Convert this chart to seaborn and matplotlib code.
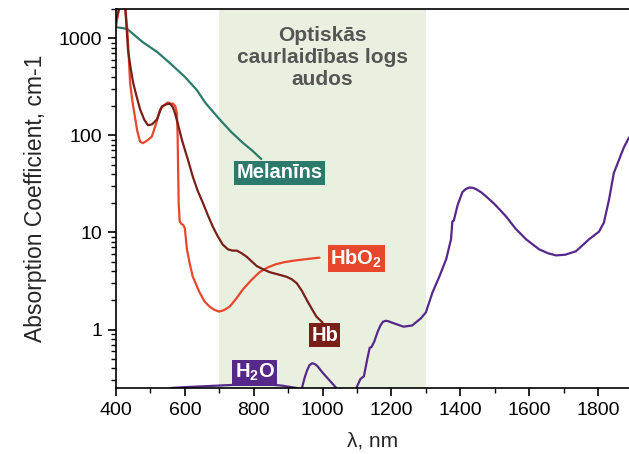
import numpy as np
import pandas as pd
import matplotlib
matplotlib.use("Agg")
import matplotlib.pyplot as plt
import matplotlib.ticker as mticker
import matplotlib.transforms as mtrans
import seaborn as sns

# ---------------- data ----------------
mel_x = [400, 432, 478, 520, 557, 600, 635, 660, 701, 735, 768, 795, 822]
mel_y = [1300, 1250, 910, 720, 553, 400, 292, 215, 146, 108, 84, 70, 57]

hbo2_x = [400, 410, 418, 425, 433, 441, 448, 455, 462, 470, 478, 490, 504, 516, 528, 540, 551,
          560, 565, 572, 577, 579, 580, 582, 585, 590, 595, 600, 606, 614, 623, 633, 643, 657,
          672, 685, 699, 713, 730, 750, 769, 792, 817, 840, 864, 890, 913, 950, 991]
hbo2_y = [1300, 2200, 2800, 2500, 1200, 345, 220, 155, 110, 86, 83, 88, 97, 130, 185, 205, 218,
          210, 213, 200, 170, 100, 56, 20, 13, 12.2, 12, 11, 6.7, 4.8, 3.5, 2.9, 2.4, 1.95,
          1.72, 1.6, 1.53, 1.58, 1.72, 2.1, 2.6, 3.2, 3.9, 4.35, 4.7, 4.95, 5.1, 5.3, 5.5]

hb_x = [400, 412, 425, 435, 443, 450, 460, 470, 482, 493, 505, 519, 533, 545, 557, 565, 571,
        580, 591, 600, 609, 623, 637, 652, 667, 681, 695, 710, 725, 738, 751, 765, 780, 795,
        809, 826, 846, 870, 895, 910, 925, 940, 953, 968, 982, 1000]
hb_y = [1530, 2200, 2600, 750, 480, 345, 250, 185, 145, 127, 130, 146, 198, 208, 212, 195, 170,
        130, 91, 71, 56, 37.6, 27, 20.3, 15, 11.5, 9.2, 7.5, 6.7, 6.5, 6.5, 6.1, 5.6, 5.0,
        4.5, 4.2, 3.9, 3.7, 3.5, 3.3, 3.0, 2.5, 2.05, 1.65, 1.36, 1.18]

h2o_x = [560, 600, 650, 700, 750, 800, 850, 880, 910, 925, 932, 940, 948, 955, 962, 970, 978,
         985, 1000, 1020, 1040, 1070, 1098, 1110, 1120, 1130, 1137, 1142, 1150, 1160, 1168,
         1175, 1183, 1190, 1210, 1235, 1260, 1285, 1300, 1319, 1339, 1359, 1373, 1377, 1381,
         1392, 1406, 1416, 1426, 1436, 1445, 1460, 1475, 1500, 1533, 1560, 1591, 1629, 1655,
         1678, 1705, 1736, 1774, 1803, 1817, 1832, 1846, 1861, 1875, 1890]
h2o_y = [0.25, 0.255, 0.26, 0.265, 0.27, 0.272, 0.27, 0.265, 0.255, 0.25, 0.2, 0.25, 0.32,
         0.38, 0.43, 0.45, 0.44, 0.42, 0.36, 0.3, 0.25, 0.15, 0.25, 0.31, 0.33, 0.5, 0.65, 0.66,
         0.75, 0.95, 1.1, 1.2, 1.23, 1.22, 1.15, 1.07, 1.1, 1.3, 1.5, 2.4, 3.5, 5.3, 8.5, 13,
         13.2, 19, 26, 28, 29, 28.8, 28, 26, 23.5, 19.5, 14.6, 11, 8.5, 6.7, 6.1, 5.8, 5.9, 6.4,
         8.5, 10.2, 12.6, 21.8, 41, 56, 75, 95]

band = (700, 1300)
title_text = "Optiskās\ncaurlaidības logs\naudos"
y_ticks = [1, 10, 100, 1000]
y_tick_labels = ["1", "10", "100", "1000"]
x_ticks = [400, 600, 800, 1000, 1200, 1400, 1600, 1800]

# ---------------- style ----------------
sns.set_theme(style="ticks")
plt.rcParams["font.family"] = ["Liberation Sans", "DejaVu Sans"]
plt.rcParams["mathtext.fontset"] = "custom"
plt.rcParams["mathtext.rm"] = "Liberation Sans"
plt.rcParams["mathtext.bf"] = "Liberation Sans:bold"

c_mel = "#2b7a6b"
c_hbo2 = "#e8472b"
c_hb = "#7a1f18"
c_h2o = "#55288a"

fig = plt.figure(figsize=(6.29, 4.54), dpi=100)
ax = fig.add_axes([116 / 629, 1 - 388 / 454, 513 / 629, 379 / 454])

ax.axvspan(band[0], band[1], color="#e9f0e0", zorder=0, lw=0)

lw = 1.6
sns.lineplot(x=mel_x, y=mel_y, color=c_mel, lw=lw, ax=ax, sort=False)
sns.lineplot(x=hbo2_x, y=hbo2_y, color=c_hbo2, lw=lw, ax=ax, sort=False)
sns.lineplot(x=hb_x, y=hb_y, color=c_hb, lw=lw, ax=ax, sort=False)
sns.lineplot(x=h2o_x, y=h2o_y, color=c_h2o, lw=lw, ax=ax, sort=False)

ax.set_yscale("log")
ax.set_xlim(400, 1890)
ax.set_ylim(0.25, 2000)

ax.set_yticks(y_ticks)
ax.set_yticklabels(y_tick_labels)
ax.yaxis.set_minor_locator(mticker.LogLocator(base=10, subs=np.arange(2, 10)))
ax.yaxis.set_minor_formatter(mticker.NullFormatter())
ax.set_xticks(x_ticks)
ax.set_xticklabels([str(v) for v in x_ticks])
ax.xaxis.set_minor_locator(mticker.MultipleLocator(100))

ax.tick_params(axis="both", which="major", direction="out", length=6, width=1.2,
               labelsize=14, color="black", labelcolor="black", pad=4)
ax.tick_params(axis="both", which="minor", direction="out", length=3.5, width=1.0, color="black")

for s in ["left", "bottom", "top"]:
    ax.spines[s].set_color("black")
    ax.spines[s].set_linewidth(1.2)
ax.spines["right"].set_visible(False)

ax.set_xlabel("λ, nm", fontsize=15, labelpad=9)
ax.set_ylabel("Absorption Coefficient, cm-1", fontsize=16.5, labelpad=8)

trans = mtrans.blended_transform_factory(ax.transData, ax.transAxes)
ax.text(1000, 0.873, title_text, transform=trans, ha="center", va="center",
        fontsize=15, fontweight="bold", color="#555555", linespacing=1.2, zorder=5)

def box_label(x, y, txt, col):
    ax.text(x, y, txt, ha="center", va="center", fontsize=14.5, fontweight="bold",
            color="white", zorder=6,
            bbox=dict(boxstyle="square,pad=0.12", fc=col, ec="none"))

box_label(875, 41, "Melanīns", c_mel)
box_label(1098, 5.4, r"HbO$_\mathbf{2}$", c_hbo2)
box_label(1006, 0.87, "Hb", c_hb)
box_label(803, 0.36, r"H$_\mathbf{2}$O", c_h2o)

fig.savefig("out.png", dpi=100)
